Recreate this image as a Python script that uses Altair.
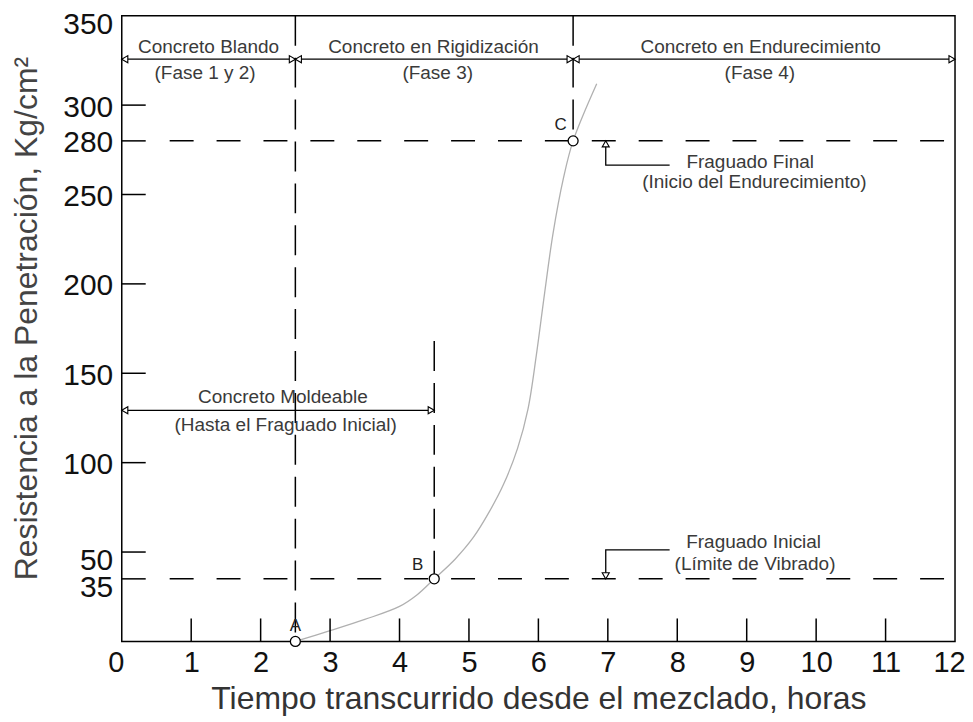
import altair as alt
import pandas as pd

# ---------------- data ----------------
curve_x = [2.5, 3.0, 3.5, 4.0, 4.25, 4.5, 4.8, 5.06, 5.3, 5.5, 5.7, 5.85, 5.97, 6.09, 6.21, 6.36, 6.5, 6.84]
curve_y = [0, 6.0, 12.3, 19.6, 26.0, 35, 46, 58, 73, 88, 108, 130, 160, 195, 228, 259, 280, 312]

pt_name = ["A", "B", "C"]
pt_x = [2.5, 4.5, 6.5]
pt_y = [0, 35, 280]
pt_lab_x = [2.5, 4.26, 6.32]
pt_lab_y = [8.8, 42.8, 289]

y_tick_values = [35, 50, 100, 150, 200, 250, 280, 300, 350]
x_tick_values = list(range(0, 13))
y_inner_ticks = [35, 50, 100, 150, 200, 250, 280, 300]
x_inner_ticks = list(range(1, 12))

vline_x = [2.5, 6.5, 4.5]
vline_top = [350, 350, 168]
vline_bot = [0, 280, 35]

hline_y = [280, 35]
hline_x1 = [0.69, 0.69]
hline_x2 = [12, 12]

phase_x1 = [0, 2.5, 6.5, 0]
phase_x2 = [2.5, 6.5, 12, 4.5]
phase_y = [325.7, 325.7, 325.7, 129.3]

phase_title = ["Concreto Blando", "Concreto en Rigidización", "Concreto en Endurecimiento", "Concreto Moldeable"]
phase_title_x = [1.25, 4.49, 9.2, 2.32]
phase_title_y = [332.5, 332.5, 332.5, 136.8]
phase_sub = ["(Fase 1 y 2)", "(Fase 3)", "(Fase 4)", "(Hasta el Fraguado Inicial)"]
phase_sub_x = [1.2, 4.55, 9.19, 2.36]
phase_sub_y = [317.7, 317.7, 317.7, 121.2]

set_text = ["Fraguado Final", "(Inicio del Endurecimiento)", "Fraguado Inicial", "(Límite de Vibrado)"]
set_text_x = [9.05, 9.11, 9.10, 9.12]
set_text_y = [268, 257, 55.8, 43.4]

leader_x = [6.97, 6.97, 7.89, 7.89, 6.97, 6.97]
leader_y = [280, 266.4, 266.4, 51.2, 51.2, 35]
leader_g = ["f", "f", "f", "i", "i", "i"]
leader_o = [0, 1, 2, 3, 4, 5]

up_arrow_x = [6.97]
up_arrow_y = [280]
down_arrow_x = [6.97]
down_arrow_y = [35]

# ---------------- chart ----------------
W, H = 835, 627
FONT = "Liberation Sans"

xs = alt.Scale(domain=[0, 12], nice=False, zero=False)
ys = alt.Scale(domain=[0, 350], nice=False, zero=False)

xaxis = alt.Axis(
    values=x_tick_values, title="Tiempo transcurrido desde el mezclado, horas",
    ticks=False, domain=False, grid=False, labelFlush=False, labelOverlap=False, labelBound=False,
    labelFont=FONT, labelFontSize=29, labelColor="#111", labelPadding=7,
    labelOffset={"condition": {"test": "datum.value == 0 || datum.value == 12", "value": -6}, "value": 0},
    titleFont=FONT, titleFontSize=32, titleFontWeight="normal", titleColor="#333",
    titleY=67, titleBaseline="alphabetic",
)
yaxis = alt.Axis(
    values=y_tick_values, title="Resistencia a la Penetración, Kg/cm²",
    ticks=False, domain=False, grid=False, labelOverlap=False, labelFlush=False,
    labelFont=FONT, labelFontSize=30, labelColor="#111", labelPadding=9,
    labelOffset={"condition": {"test": "datum.value == 350 || datum.value <= 50", "value": 9}, "value": 2},
    titleFont=FONT, titleFontSize=32, titleFontWeight="normal", titleColor="#444",
    titleX=-85, titleY=303, titleBaseline="alphabetic",
)

X = alt.X("x:Q", scale=xs, axis=xaxis)
Y = alt.Y("y:Q", scale=ys, axis=yaxis)

curve_df = pd.DataFrame({"x": curve_x, "y": curve_y})
curve = alt.Chart(curve_df).mark_line(color="#b0b0b0", strokeWidth=1.3, interpolate="catmull-rom").encode(x=X, y=Y)

vl_df = pd.DataFrame({"x": vline_x, "y": vline_top, "y2": vline_bot})
vlines = alt.Chart(vl_df).mark_rule(color="#000", strokeWidth=1.5, strokeDash=[30, 12]).encode(
    x=X, y=Y, y2="y2:Q")

hl_df = pd.DataFrame({"x": hline_x1, "x2": hline_x2, "y": hline_y})
hlines = alt.Chart(hl_df).mark_rule(color="#000", strokeWidth=1.5, strokeDash=[24, 23]).encode(
    x=X, x2="x2:Q", y=Y)

yt_df = pd.DataFrame({"y": y_inner_ticks})
yticks = alt.Chart(yt_df).mark_rule(color="#000", strokeWidth=1.5).encode(
    y=Y, x=alt.value(0), x2=alt.value(24))

xt_df = pd.DataFrame({"x": x_inner_ticks})
xticks = alt.Chart(xt_df).mark_rule(color="#000", strokeWidth=1.5).encode(
    x=X, y=alt.value(H), y2=alt.value(H - 23))

ph_df = pd.DataFrame({"x": phase_x1, "x2": phase_x2, "y": phase_y})
phases = alt.Chart(ph_df).mark_rule(color="#000", strokeWidth=1.3).encode(x=X, x2="x2:Q", y=Y)

la_df = pd.DataFrame({"x": phase_x1, "y": phase_y})
left_arrows = alt.Chart(la_df).mark_point(shape="triangle-left", size=50, filled=True, fill="white",
                                          stroke="#000", strokeWidth=1.1, xOffset=3, opacity=1).encode(x=X, y=Y)
ra_df = pd.DataFrame({"x": phase_x2, "y": phase_y})
right_arrows = alt.Chart(ra_df).mark_point(shape="triangle-right", size=50, filled=True, fill="white",
                                           stroke="#000", strokeWidth=1.1, xOffset=-3, opacity=1).encode(x=X, y=Y)

ld_df = pd.DataFrame({"x": leader_x, "y": leader_y, "g": leader_g, "o": leader_o})
leaders = alt.Chart(ld_df).mark_line(color="#000", strokeWidth=1.3).encode(
    x=X, y=Y, detail="g:N", order="o:Q")

ua_df = pd.DataFrame({"x": up_arrow_x, "y": up_arrow_y})
up_arrows = alt.Chart(ua_df).mark_point(shape="triangle-up", size=50, filled=True, fill="white",
                                        stroke="#000", strokeWidth=1.1, yOffset=3, opacity=1).encode(x=X, y=Y)
da_df = pd.DataFrame({"x": down_arrow_x, "y": down_arrow_y})
down_arrows = alt.Chart(da_df).mark_point(shape="triangle-down", size=50, filled=True, fill="white",
                                          stroke="#000", strokeWidth=1.1, yOffset=-3, opacity=1).encode(x=X, y=Y)

pt_df = pd.DataFrame({"x": pt_x, "y": pt_y})
points = alt.Chart(pt_df).mark_point(shape="circle", size=100, filled=True, fill="white",
                                     stroke="#000", strokeWidth=1.3, opacity=1).encode(x=X, y=Y)

pl_df = pd.DataFrame({"x": pt_lab_x, "y": pt_lab_y, "t": pt_name})
pt_labels = alt.Chart(pl_df).mark_text(font=FONT, fontSize=17, color="#222", baseline="middle",
                                       align="center").encode(x=X, y=Y, text="t:N")

def text_layer(tx, ty, tt):
    df = pd.DataFrame({"x": tx, "y": ty, "t": tt})
    return alt.Chart(df).mark_text(font=FONT, fontSize=19, color="#3a3a3a", baseline="middle",
                                   align="center").encode(x=X, y=Y, text="t:N")

t1 = text_layer(phase_title_x, phase_title_y, phase_title)
t2 = text_layer(phase_sub_x, phase_sub_y, phase_sub)
t3 = text_layer(set_text_x, set_text_y, set_text)

chart = alt.layer(
    curve, vlines, hlines, yticks, xticks, phases, leaders,
    left_arrows, right_arrows, up_arrows, down_arrows, points, pt_labels, t1, t2, t3
).properties(
    width=W, height=H,
    autosize=alt.AutoSizeParams(type="none"),
    padding={"left": 114, "top": 7, "right": 10, "bottom": 80},
    background="white",
).configure_view(stroke="#000", strokeWidth=1.5)

chart.save("out.html", embed_options={"renderer": "svg", "actions": False})
